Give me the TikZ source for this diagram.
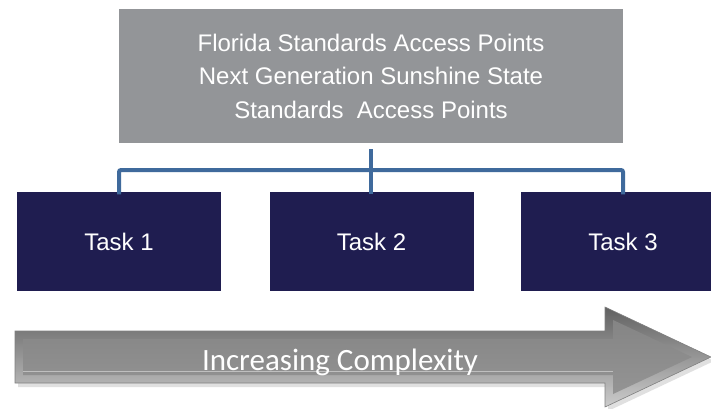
\documentclass[tikz,border=0pt]{standalone}
\usepackage{fontspec}
\setmainfont{Liberation Sans}
\newfontfamily\calfont{Carlito}
\definecolor{topgray}{HTML}{939598}
\definecolor{tasknavy}{HTML}{1F1D50}
\definecolor{connblue}{HTML}{3F6A9C}
\begin{document}
\begin{tikzpicture}[x=1pt,y=-1pt,
  topbox/.style={fill=topgray,draw=none,minimum width=504pt,minimum height=134pt,inner sep=0pt,
    text=white,align=center,font=\fontsize{24}{33.5}\selectfont},
  taskbox/.style={fill=tasknavy,draw=none,minimum width=204pt,minimum height=99pt,inner sep=0pt,
    text=white,font=\fontsize{24}{28}\selectfont},
  conn/.style={draw=connblue,line width=4pt,rounded corners=2pt},
  arrowlabel/.style={text=white,font=\calfont\fontsize{31}{36}\selectfont,inner sep=0pt}]
\clip (0,0) rectangle (711,408);
\fill[white] (0,0) rectangle (711,408);

\node[topbox] (top) at (371,76) {Florida Standards Access Points\\Next Generation Sunshine State\\Standards\ \ Access Points};

\node[taskbox] (t1) at (119,241.5) {Task 1};
\node[taskbox] (t2) at (371.5,241.5) {Task 2};
\node[taskbox] (t3) at (623,241.5) {Task 3};

\coordinate (hub) at (371,170);
\draw[conn] ([yshift=-6pt]top.south) -- ([yshift=-2.5pt]t2.north -| hub);
\draw[conn] ([yshift=-2.5pt]t1.north) |- (hub) -| ([yshift=-2.5pt]t3.north);

% arrow
\fill[black!12] (18,335) -- (608,335) -- (608,311) -- (714,361) -- (608,411) -- (608,387) -- (18,387) -- cycle;
\shade[top color=black!62,bottom color=black!20,draw=black!50,line width=0.6pt]
  (15,331) -- (605,331) -- (605,307) -- (711,357) -- (605,407) -- (605,383) -- (15,383) -- cycle;
\shade[top color=black!48,bottom color=black!42]
  (23,339) -- (613,339) -- (613,320) -- (692,357) -- (613,394) -- (613,375) -- (23,375) -- cycle;
\draw[white!75!black,line width=0.8pt] (23,371) -- (613,371);
\node[arrowlabel,anchor=base] (lab) at (340,370) {Increasing Complexity};
\end{tikzpicture}
\end{document}
